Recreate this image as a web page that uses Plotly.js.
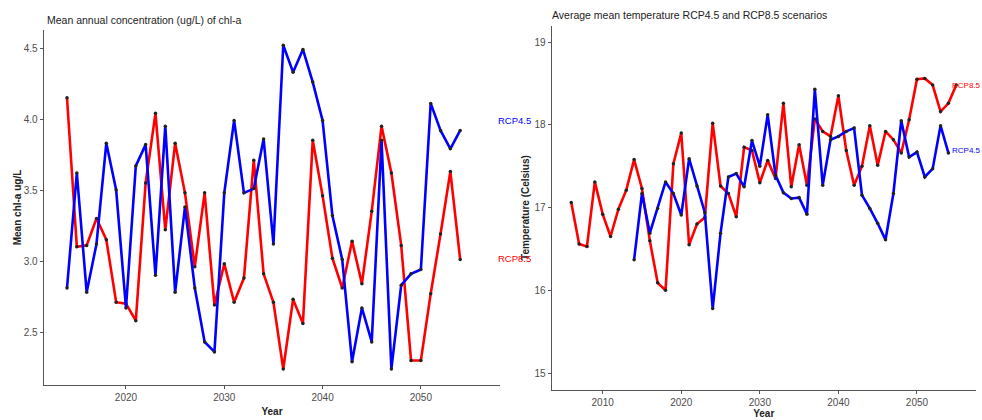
<!DOCTYPE html>
<html>
<head>
<meta charset="utf-8">
<script src="https://cdn.plot.ly/plotly-3.0.1.min.js"></script>
<style>html,body{margin:0;padding:0;background:#fff;}#chart{width:982px;height:420px;}</style>
</head>
<body>
<div id="chart"></div>
<script>
// ---- Data: mean annual chl-a concentration (ug/L) ----
const chlYears = [2014,2015,2016,2017,2018,2019,2020,2021,2022,2023,2024,2025,2026,2027,2028,2029,2030,2031,2032,2033,2034,2035,2036,2037,2038,2039,2040,2041,2042,2043,2044,2045,2046,2047,2048,2049,2050,2051,2052,2053,2054];
const chlRcp45 = [2.81,3.62,2.78,3.12,3.83,3.50,2.67,3.67,3.82,2.90,3.95,2.78,3.38,2.81,2.43,2.36,3.48,3.99,3.48,3.51,3.86,3.12,4.52,4.33,4.49,4.26,3.99,3.32,3.01,2.29,2.67,2.43,3.85,2.24,2.83,2.91,2.94,4.11,3.92,3.79,3.92];
const chlRcp85 = [4.15,3.10,3.11,3.30,3.15,2.71,2.70,2.58,3.55,4.04,3.22,3.83,3.48,2.96,3.48,2.69,2.98,2.71,2.88,3.71,2.91,2.71,2.24,2.73,2.56,3.85,3.46,3.02,2.81,3.14,2.84,3.35,3.95,3.62,3.11,2.30,2.30,2.77,3.19,3.63,3.01];

// ---- Data: average mean temperature (Celsius) ----
const tempYears45 = [2014,2015,2016,2017,2018,2019,2020,2021,2022,2023,2024,2025,2026,2027,2028,2029,2030,2031,2032,2033,2034,2035,2036,2037,2038,2039,2040,2041,2042,2043,2044,2045,2046,2047,2048,2049,2050,2051,2052,2053,2054];
const tempRcp45 = [16.37,17.17,16.69,16.99,17.31,17.17,16.91,17.59,17.26,16.94,15.78,16.69,17.37,17.41,17.25,17.81,17.50,18.12,17.39,17.18,17.11,17.12,16.92,18.43,17.27,17.82,17.86,17.92,17.96,17.15,16.99,16.81,16.61,17.17,18.05,17.61,17.67,17.37,17.47,17.99,17.66];
const tempYears85 = [2006,2007,2008,2009,2010,2011,2012,2013,2014,2015,2016,2017,2018,2019,2020,2021,2022,2023,2024,2025,2026,2027,2028,2029,2030,2031,2032,2033,2034,2035,2036,2037,2038,2039,2040,2041,2042,2043,2044,2045,2046,2047,2048,2049,2050,2051,2052,2053,2054,2055];
const tempRcp85 = [17.06,16.56,16.53,17.31,16.92,16.65,16.98,17.21,17.58,17.23,16.60,16.09,16.00,17.53,17.90,16.55,16.80,16.88,18.02,17.26,17.17,16.89,17.73,17.69,17.30,17.57,17.35,18.26,17.25,17.76,17.27,18.07,17.92,17.86,18.35,17.69,17.27,17.50,17.99,17.51,17.92,17.82,17.66,18.06,18.55,18.56,18.48,18.16,18.26,18.48];

const chlTicks = [2.5,3.0,3.5,4.0,4.5];
const chlTickText = ['2.5','3.0','3.5','4.0','4.5'];
const chlYearTicks = [2020,2030,2040,2050];
const tempTicks = [15,16,17,18,19];
const tempYearTicks = [2010,2020,2030,2040,2050];

const BLUE = '#0000ff', RED = '#ff0000';
const FONT = 'Liberation Sans, Arial, sans-serif';

function series(x, y, color, xa, ya) {
  return {
    x: x, y: y, xaxis: xa, yaxis: ya, type: 'scatter', mode: 'lines+markers',
    line: {color: color, width: 2.6},
    marker: {color: '#222', size: 3.5},
    hoverinfo: 'x+y', showlegend: false, cliponaxis: false
  };
}

const data = [
  series(chlYears, chlRcp85, RED, 'x', 'y'),
  series(chlYears, chlRcp45, BLUE, 'x', 'y'),
  series(tempYears85, tempRcp85, RED, 'x2', 'y2'),
  series(tempYears45, tempRcp45, BLUE, 'x2', 'y2')
];

const axisCommon = {
  showgrid: false, zeroline: false, showline: true, linecolor: '#555', linewidth: 1.4,
  ticks: 'outside', ticklen: 3, tickwidth: 1, tickcolor: '#555',
  tickfont: {family: FONT, size: 10, color: '#4d4d4d'}, automargin: false
};

const layout = {
  width: 982, height: 420,
  margin: {l: 0, r: 0, t: 0, b: 0},
  paper_bgcolor: '#fff', plot_bgcolor: '#fff',
  font: {family: FONT},
  xaxis: Object.assign({}, axisCommon, {
    domain: [44/982, 500/982], range: [2011.66, 2058.05], tickvals: chlYearTicks, anchor: 'y',
    title: {text: '<b>Year</b>', font: {family: FONT, size: 10, color: '#222'}, standoff: 5}
  }),
  yaxis: Object.assign({}, axisCommon, {
    domain: [35/420, 390/420], range: [2.127, 4.627], tickvals: chlTicks, ticktext: chlTickText, anchor: 'x',
    title: {text: '<b>Mean chl-a ug/L</b>', font: {family: FONT, size: 10, color: '#222'}, standoff: 0}
  }),
  xaxis2: Object.assign({}, axisCommon, {
    domain: [552/982, 975.5/982], range: [2003.55, 2057.45], tickvals: tempYearTicks, anchor: 'y2',
    title: {text: '<b>Year</b>', font: {family: FONT, size: 10, color: '#222'}, standoff: 3}
  }),
  yaxis2: Object.assign({}, axisCommon, {
    domain: [30.4/420, 394.5/420], range: [14.8, 19.2], tickvals: tempTicks, anchor: 'x2',
    title: {text: '<b>Temperature (Celsius)</b>', font: {family: FONT, size: 10, color: '#222'}, standoff: 3}
  }),
  annotations: [
    {text: 'Mean annual concentration (ug/L) of chl-a', xref: 'paper', yref: 'paper',
     x: 45/982, y: (420-20)/420, xanchor: 'left', yanchor: 'middle', showarrow: false,
     font: {family: FONT, size: 10.5, color: '#222'}},
    {text: 'Average mean temperature RCP4.5 and RCP8.5 scenarios', xref: 'paper', yref: 'paper',
     x: 550/982, y: (420-15)/420, xanchor: 'left', yanchor: 'middle', showarrow: false,
     font: {family: FONT, size: 10.5, color: '#222'}},
    {text: 'RCP4.5', xref: 'x', yref: 'y', x: 2057.6, y: 3.99, xanchor: 'left', yanchor: 'middle',
     showarrow: false, font: {family: FONT, size: 9.5, color: BLUE}},
    {text: 'RCP8.5', xref: 'x', yref: 'y', x: 2057.6, y: 3.02, xanchor: 'left', yanchor: 'middle',
     showarrow: false, font: {family: FONT, size: 9.5, color: RED}},
    {text: 'RCP8.5', xref: 'x2', yref: 'y2', x: 2054.2, y: 18.48, xanchor: 'left', yanchor: 'middle',
     showarrow: false, font: {family: FONT, size: 8, color: RED}},
    {text: 'RCP4.5', xref: 'x2', yref: 'y2', x: 2054.2, y: 17.69, xanchor: 'left', yanchor: 'middle',
     showarrow: false, font: {family: FONT, size: 8, color: BLUE}}
  ]
};

Plotly.newPlot('chart', data, layout, {displayModeBar: false, staticPlot: true});
</script>
</body>
</html>
